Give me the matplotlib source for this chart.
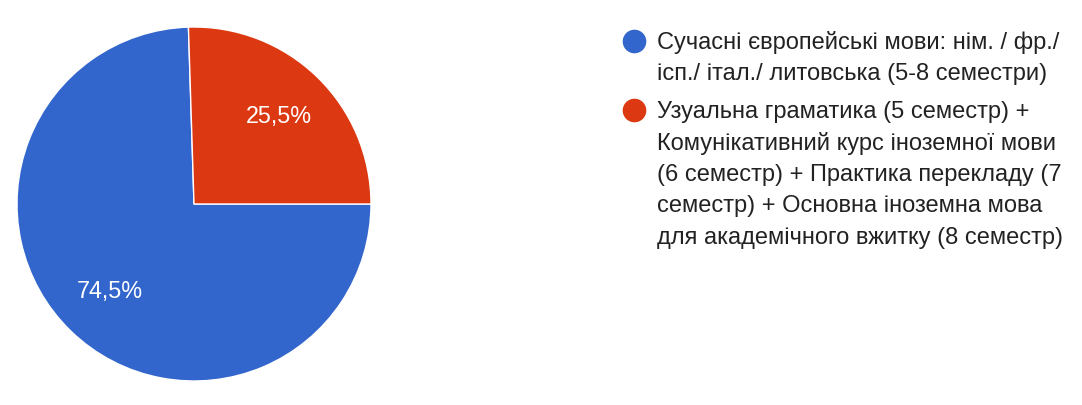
import matplotlib.pyplot as plt

# data
labels = [
    ["Сучасні європейські мови: нім. / фр./",
     "ісп./ італ./ литовська (5-8 семестри)"],
    ["Узуальна граматика (5 семестр) +",
     "Комунікативний курс іноземної мови",
     "(6 семестр) + Практика перекладу (7",
     "семестр) + Основна іноземна мова",
     "для академічного вжитку (8 семестр)"],
]
shares = [74.5, 25.5]
colors = ["#3366CC", "#DC3912"]

plt.rcParams["font.family"] = ["Liberation Sans", "DejaVu Sans"]

W, H = 1082, 405
fig = plt.figure(figsize=(W / 100, H / 100), dpi=100)

# pie: centre at (194, 204) px, radius 177 px
cx, cy, r = 194, 204, 177
ax = fig.add_axes([(cx - r) / W, (H - cy - r) / H, 2 * r / W, 2 * r / H])
ax.pie(shares, colors=colors, startangle=360 * shares[1] / 100,
       counterclock=True, radius=1,
       wedgeprops=dict(edgecolor="white", linewidth=1),
       autopct=lambda p: f"{p:.1f}%".replace(".", ","),
       pctdistance=0.686,
       textprops=dict(color="white", fontsize=16.8))
ax.set_xlim(-1, 1)
ax.set_ylim(-1, 1)
ax.set_aspect("equal")

# legend drawn in pixel coordinates
lg = fig.add_axes([0, 0, 1, 1])
lg.set_xlim(0, W)
lg.set_ylim(H, 0)
lg.axis("off")

base = 49
for lines, c in zip(labels, colors):
    lg.plot(634, base - 8.3, "o", ms=16, color=c)
    for line in lines:
        lg.text(657, base, line, fontsize=17, color="#222222", va="baseline")
        base += 31.3
    base += 6.7

fig.savefig("out.png", dpi=100, facecolor="white")
